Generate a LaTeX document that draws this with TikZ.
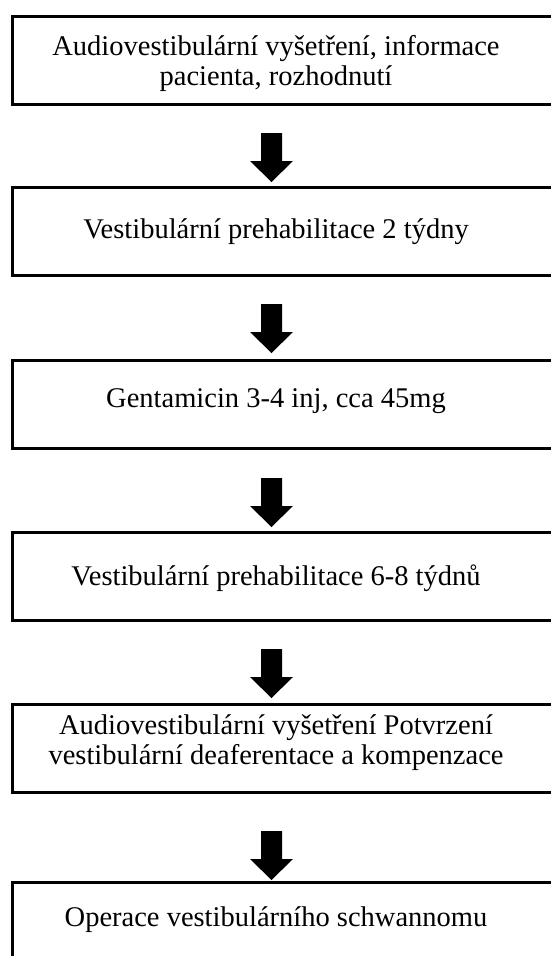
\documentclass[tikz,border=0pt]{standalone}
\usepackage{fontspec}
\setmainfont{Liberation Serif}
\begin{document}
\begin{tikzpicture}[x=1pt,y=-1pt,
  box/.style={draw, line width=3.4pt, rectangle, inner sep=0pt, minimum width=549.2pt, anchor=north west},
  txt/.style={font=\fontsize{28.5}{30}\selectfont, inner sep=0pt, align=center},
  blockarrow/.pic={\fill (-10.5,-49) -- (10.5,-49) -- (10.5,-21) -- (21.5,-21) -- (0,0) -- (-21.5,-21) -- (-10.5,-21) -- cycle;}
]
\useasboundingbox (0,0) rectangle (550,956);
\fill[white] (0,0) rectangle (550,956);
% boxes
\node[box, minimum height=88pt]   (b1) at (10.8,14.5) {};
\node[box, minimum height=88pt]   (b2) at (10.8,185.5) {};
\node[box, minimum height=88.5pt] (b3) at (10.8,358.5) {};
\node[box, minimum height=88.5pt] (b4) at (10.8,530.5) {};
\node[box, minimum height=88pt]   (b5) at (10.8,703) {};
\node[box, minimum height=88pt]   (b6) at (10.8,881) {};
% texts
\node[txt, anchor=center] (t1) at (276,63.7) {Audiovestibulární vyšetření, informace\\pacienta, rozhodnutí};
\node[txt, anchor=base] (t2) at (276,238) {Vestibulární prehabilitace 2 týdny};
\node[txt, anchor=base] (t3) at (276,407) {Gentamicin 3-4 inj, cca 45mg};
\node[txt, anchor=base] (t4) at (276,585) {Vestibulární prehabilitace 6-8 týdnů};
\node[txt, anchor=center] (t5) at (276,742.7) {Audiovestibulární vyšetření Potvrzení\\vestibulární deaferentace a kompenzace};
\node[txt, anchor=base] (t6) at (276,926) {Operace vestibulárního schwannomu};
% arrows (tips)
\coordinate (a1) at (271.5,182);
\coordinate (a2) at (271.5,353);
\coordinate (a3) at (271.5,527);
\coordinate (a4) at (271.5,698);
\coordinate (a5) at (271.5,880);
\foreach \a in {a1,a2,a3,a4,a5} \pic at (\a) {blockarrow};
\end{tikzpicture}
\end{document}
